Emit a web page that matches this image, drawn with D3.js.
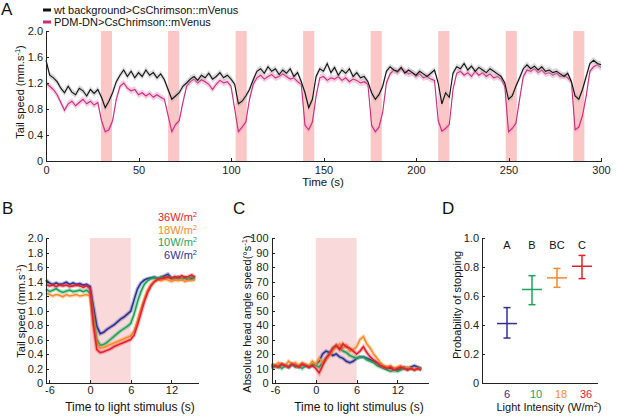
<!DOCTYPE html>
<html lang="en">
    <head>
        <meta charset="utf-8">
        <title>Larval stopping</title>
        <script type="text/javascript" src="https://cdn.jsdelivr.net/npm/d3@7"></script>
        <style>
            body { margin: 0; background: #fff; }
            svg { font-family: "Liberation Sans", Arial, sans-serif; }
            .axis path, .axis line { fill: none; stroke: #222; stroke-width: 1; shape-rendering: crispEdges; }
            .axis text { font-size: 11px; fill: #222; }
        </style>
    </head>
    <body>
        <script type="text/javascript">
            // Panel A: tail speed over a 300 s protocol, sampled every 2 s
            var timeA = d3.range(0, 301, 2);
            var wtSpeed = [1.55, 1.32, 1.28, 1.22, 1.12, 1.05, 1.15, 1.06, 1.02, 1.12, 1.08, 1.00, 1.10, 1.04, 1.10,
                0.98, 0.82, 0.92, 1.05, 1.22, 1.32, 1.40, 1.30, 1.38, 1.28, 1.36, 1.30, 1.40, 1.32, 1.36, 1.28, 1.34, 1.25,
                1.10, 0.95, 1.00, 1.05, 1.15, 1.20, 1.26, 1.30, 1.24, 1.32, 1.28, 1.35, 1.26, 1.30, 1.36, 1.28, 1.32, 1.26,
                1.18, 0.88, 0.92, 1.00, 1.10, 1.25, 1.38, 1.42, 1.35, 1.45, 1.38, 1.42, 1.33, 1.40, 1.35, 1.42, 1.30, 1.36,
                1.22, 1.05, 0.82, 0.95, 1.30, 1.42, 1.38, 1.50, 1.36, 1.44, 1.32, 1.40, 1.35, 1.42, 1.30, 1.36, 1.28, 1.30,
                1.22, 1.05, 0.95, 1.02, 1.15, 1.38, 1.45, 1.40, 1.38, 1.44, 1.35, 1.40, 1.36, 1.32, 1.38, 1.34, 1.30, 1.35,
                1.40, 1.20, 0.88, 1.05, 0.98, 1.35, 1.45, 1.42, 1.50, 1.40, 1.46, 1.38, 1.44, 1.40, 1.36, 1.42, 1.38, 1.34,
                1.30, 1.20, 0.95, 1.00, 1.15, 1.28, 1.42, 1.48, 1.42, 1.46, 1.40, 1.45, 1.38, 1.40, 1.36, 1.38, 1.34, 1.30,
                1.35, 1.22, 1.00, 0.95, 1.10, 1.30, 1.50, 1.55, 1.50, 1.48];
            var pdmSpeed = [1.20, 1.15, 1.10, 1.02, 0.90, 0.78, 0.88, 0.92, 0.85, 0.90, 0.95, 0.88, 0.92, 0.86, 0.90,
                0.62, 0.45, 0.48, 0.62, 0.95, 1.15, 1.20, 1.12, 1.08, 1.10, 1.02, 1.05, 1.00, 1.04, 0.98, 1.02, 0.98, 0.95,
                0.70, 0.45, 0.56, 0.62, 0.90, 1.15, 1.22, 1.26, 1.20, 1.25, 1.22, 1.18, 1.10, 1.18, 1.24, 1.20, 1.22, 1.15,
                0.80, 0.45, 0.52, 0.60, 0.95, 1.18, 1.28, 1.32, 1.26, 1.30, 1.33, 1.28, 1.30, 1.34, 1.30, 1.26, 1.28, 1.22,
                1.18, 0.55, 0.48, 0.60, 1.00, 1.28, 1.30, 1.24, 1.28, 1.26, 1.30, 1.24, 1.28, 1.22, 1.26, 1.24, 1.20, 1.22,
                1.18, 0.55, 0.45, 0.52, 0.75, 1.20, 1.34, 1.40, 1.36, 1.42, 1.38, 1.34, 1.36, 1.30, 1.34, 1.28, 1.30, 1.26,
                1.24, 0.62, 0.46, 0.50, 0.56, 1.10, 1.35, 1.38, 1.32, 1.36, 1.30, 1.38, 1.32, 1.36, 1.30, 1.34, 1.28, 1.30,
                1.26, 1.15, 0.45, 0.50, 0.58, 0.95, 1.30, 1.40, 1.38, 1.42, 1.36, 1.40, 1.34, 1.36, 1.32, 1.35, 1.30, 1.32,
                1.28, 1.22, 0.48, 0.52, 0.70, 1.00, 1.38, 1.45, 1.48, 1.44];
            var pulseStarts = [29.7, 66, 102.5, 139, 175.5, 212, 248.5, 285];
            var pulseLength = 6;
            var semA = 0.05;

            // Panels B and C: aligned to light onset, 0.5 s steps
            var timeBC = d3.range(-6.5, 16, 0.5);
            var intensities = ["36W/m", "18W/m", "10W/m", "6W/m"];
            var speed36 = [1.36, 1.34, 1.35, 1.33, 1.35, 1.34, 1.35, 1.33, 1.34, 1.35, 1.34, 1.32, 1.34, 1.30, 0.80, 0.46,
                0.42, 0.43, 0.45, 0.47, 0.50, 0.52, 0.54, 0.56, 0.58, 0.60, 0.66, 0.80, 0.96, 1.12, 1.25, 1.34, 1.40, 1.43,
                1.44, 1.45, 1.46, 1.44, 1.47, 1.45, 1.48, 1.46, 1.47, 1.49, 1.46];
            var speed18 = [1.24, 1.22, 1.20, 1.22, 1.21, 1.19, 1.22, 1.20, 1.21, 1.22, 1.20, 1.21, 1.22, 1.20, 0.85, 0.55,
                0.48, 0.49, 0.51, 0.53, 0.55, 0.57, 0.59, 0.61, 0.63, 0.65, 0.72, 0.86, 1.02, 1.16, 1.28, 1.36, 1.40, 1.42,
                1.41, 1.43, 1.42, 1.40, 1.42, 1.41, 1.43, 1.40, 1.42, 1.41, 1.43];
            var speed10 = [1.30, 1.26, 1.28, 1.30, 1.27, 1.25, 1.27, 1.28, 1.26, 1.27, 1.28, 1.26, 1.28, 1.24, 0.90, 0.60,
                0.52, 0.53, 0.56, 0.60, 0.64, 0.68, 0.72, 0.75, 0.78, 0.82, 0.95, 1.12, 1.26, 1.36, 1.41, 1.44, 1.45, 1.44,
                1.46, 1.45, 1.47, 1.45, 1.44, 1.46, 1.44, 1.45, 1.44, 1.46, 1.44];
            var speed6 = [1.42, 1.38, 1.36, 1.38, 1.36, 1.37, 1.39, 1.36, 1.38, 1.36, 1.37, 1.35, 1.36, 1.33, 1.05, 0.78,
                0.68, 0.70, 0.74, 0.77, 0.80, 0.84, 0.88, 0.91, 0.95, 0.99, 1.15, 1.30, 1.38, 1.42, 1.44, 1.45, 1.46, 1.44,
                1.46, 1.48, 1.50, 1.45, 1.44, 1.46, 1.43, 1.45, 1.42, 1.44, 1.43];
            var head36 = [11, 12, 11, 13, 12, 11, 13, 12, 11, 13, 12, 11, 12, 10, 7, 12, 17, 20, 24, 26, 23, 27, 25, 24,
                22, 20, 22, 25, 21, 18, 16, 14, 12, 11, 10, 11, 9, 10, 11, 10, 9, 10, 9, 10, 9];
            var head18 = [13, 12, 14, 13, 12, 15, 13, 14, 12, 14, 13, 12, 15, 13, 17, 14, 16, 19, 22, 25, 27, 24, 26, 22,
                23, 25, 30, 32, 27, 24, 20, 17, 14, 12, 11, 12, 10, 11, 12, 10, 11, 10, 9, 10, 9];
            var head10 = [10, 11, 12, 10, 12, 11, 13, 11, 12, 10, 12, 11, 13, 12, 11, 14, 17, 20, 24, 26, 24, 22, 21, 19,
                18, 17, 18, 18, 16, 15, 14, 12, 11, 10, 9, 8, 9, 8, 9, 10, 9, 10, 9, 10, 10];
            var head6 = [13, 12, 11, 13, 12, 11, 13, 12, 11, 13, 12, 11, 12, 13, 15, 20, 22, 21, 19, 20, 18, 17, 15, 14,
                15, 17, 18, 18, 17, 16, 15, 14, 12, 11, 11, 10, 10, 9, 10, 11, 10, 11, 12, 11, 10];

            // Panel D: probability of stopping with 95% interval
            var doseLabels = ["6", "10", "18", "36"];
            var stopProb = [0.41, 0.645, 0.725, 0.805];
            var stopLow = [0.31, 0.54, 0.66, 0.72];
            var stopHigh = [0.52, 0.74, 0.79, 0.88];
            var groupLetters = ["A", "B", "BC", "C"];

            var colors = ["#e3202c", "#f68b28", "#1ea35a", "#2e3192"];
            var doseColors = ["#2e3192", "#1ea35a", "#f68b28", "#e3202c"];

            var w = 617;
            var h = 416;
            var svg = d3.select("body").append("svg").attr("width", w).attr("height", h);

            function label(txt, x, y, size, anchor) {
                return svg.append("text").attr("x", x).attr("y", y).attr("font-size", size)
                          .attr("text-anchor", anchor || "start").attr("fill", "#111").text(txt);
            }
            function fmt(d) { return d === 0 ? "0" : d3.format(".1f")(d); }

            // ---------- A ----------
            var xA = d3.scaleLinear().domain([0, 300]).range([46, 601]);
            var yA = d3.scaleLinear().domain([0, 2]).range([161, 31]);

            svg.append("g").selectAll("rect").data(pulseStarts).enter().append("rect")
               .attr("x", function(d) { return xA(d); })
               .attr("width", function(d) { return xA(d + pulseLength) - xA(d); })
               .attr("y", yA(2)).attr("height", yA(0) - yA(2))
               .attr("fill", "#fbc6c6");

            var bandA = function(vals) {
                return d3.area().x(function(d, i) { return xA(timeA[i]); })
                         .y0(function(d) { return yA(d - semA); })
                         .y1(function(d) { return yA(d + semA); })(vals);
            };
            var lineA = d3.line().x(function(d, i) { return xA(timeA[i]); }).y(function(d) { return yA(d); });

            svg.append("path").attr("d", bandA(pdmSpeed)).attr("fill", "#ef9cc4").attr("opacity", 0.5);
            svg.append("path").attr("d", lineA(pdmSpeed)).attr("fill", "none").attr("stroke", "#cc2a7c").attr("stroke-width", 1.1);
            svg.append("path").attr("d", bandA(wtSpeed)).attr("fill", "#aaaaaa").attr("opacity", 0.45);
            svg.append("path").attr("d", lineA(wtSpeed)).attr("fill", "none").attr("stroke", "#111").attr("stroke-width", 1.1);

            svg.append("g").attr("class", "axis").attr("transform", "translate(0," + yA(0) + ")")
               .call(d3.axisBottom(xA).tickValues([0, 50, 100, 150, 200, 250, 300]).tickSizeInner(-3).tickSizeOuter(0).tickPadding(5));
            svg.append("g").attr("class", "axis").attr("transform", "translate(" + xA(0) + ",0)")
               .call(d3.axisLeft(yA).tickValues([0, 0.4, 0.8, 1.2, 1.6, 2.0]).tickFormat(fmt).tickSizeInner(-3).tickSizeOuter(0).tickPadding(3));

            label("A", 1, 15, 17);
            svg.append("line").attr("x1", 43).attr("x2", 51).attr("y1", 10).attr("y2", 10).attr("stroke", "#111").attr("stroke-width", 3);
            svg.append("line").attr("x1", 43).attr("x2", 51).attr("y1", 22).attr("y2", 22).attr("stroke", "#cc2a7c").attr("stroke-width", 3);
            label("wt background>CsChrimson::mVenus", 54, 14, 11);
            label("PDM-DN>CsChrimson::mVenus", 54, 26, 11);
            label("Time (s)", 323, 186, 11.5, "middle");

            function yLabel(x, y, main) {
                var t = svg.append("text").attr("transform", "translate(" + x + "," + y + ") rotate(-90)")
                           .attr("text-anchor", "middle").attr("font-size", 11).attr("fill", "#111");
                t.append("tspan").text(main);
                t.append("tspan").attr("dy", -4).attr("font-size", 7.5).text("-1");
                t.append("tspan").attr("dy", 4).text(")");
                return t;
            }
            yLabel(24, 92, "Tail speed (mm.s");

            // ---------- B ----------
            var xB = d3.scaleLinear().domain([-6.5, 16]).range([46, 198.5]);
            var yB = d3.scaleLinear().domain([0, 2]).range([383, 238]);
            svg.append("rect").attr("x", xB(0)).attr("width", xB(6) - xB(0))
               .attr("y", yB(2)).attr("height", yB(0) - yB(2)).attr("fill", "#f9d9da");

            var speedSeries = [speed36, speed18, speed10, speed6];
            var lineB = d3.line().x(function(d, i) { return xB(timeBC[i]); }).y(function(d) { return yB(d); });
            speedSeries.slice().reverse().forEach(function(s, k) {
                var c = colors[3 - k];
                svg.append("path").attr("d", lineB(s)).attr("fill", "none").attr("stroke", c).attr("stroke-opacity", 0.3).attr("stroke-width", 4);
                svg.append("path").attr("d", lineB(s)).attr("fill", "none").attr("stroke", c).attr("stroke-width", 1.6);
            });

            svg.append("g").attr("class", "axis").attr("transform", "translate(0," + yB(0) + ")")
               .call(d3.axisBottom(xB).tickValues([-6, 0, 6, 12]).tickFormat(String).tickSizeInner(-3).tickSizeOuter(0).tickPadding(3));
            svg.append("g").attr("class", "axis").attr("transform", "translate(" + xB(-6.5) + ",0)")
               .call(d3.axisLeft(yB).tickValues(d3.range(0, 2.01, 0.2)).tickFormat(fmt).tickSizeInner(-3).tickSizeOuter(0).tickPadding(3));

            label("B", 2, 214, 17);
            intensities.forEach(function(t, i) {
                var tx = svg.append("text").attr("x", 197).attr("y", 221 + i * 12.5).attr("text-anchor", "end")
                            .attr("font-size", 11).attr("fill", colors[i]);
                tx.append("tspan").text(t);
                tx.append("tspan").attr("dy", -4).attr("font-size", 7.5).text("2");
            });
            yLabel(25, 311, "Tail speed (mm.s");
            label("Time to light stimulus (s)", 130, 411, 12, "middle");

            // ---------- C ----------
            var xC = d3.scaleLinear().domain([-6.5, 16.5]).range([271.6, 428]);
            var yC = d3.scaleLinear().domain([0, 100]).range([383, 238]);
            svg.append("rect").attr("x", xC(0)).attr("width", xC(6) - xC(0))
               .attr("y", yC(100)).attr("height", yC(0) - yC(100)).attr("fill", "#f9d9da");

            var headSeries = [head36, head18, head10, head6];
            var lineC = d3.line().x(function(d, i) { return xC(timeBC[i]); }).y(function(d) { return yC(d); });
            headSeries.slice().reverse().forEach(function(s, k) {
                var c = colors[3 - k];
                svg.append("path").attr("d", lineC(s)).attr("fill", "none").attr("stroke", c).attr("stroke-opacity", 0.3).attr("stroke-width", 4);
                svg.append("path").attr("d", lineC(s)).attr("fill", "none").attr("stroke", c).attr("stroke-width", 1.6);
            });

            svg.append("g").attr("class", "axis").attr("transform", "translate(0," + yC(0) + ")")
               .call(d3.axisBottom(xC).tickValues([-6, 0, 6, 12]).tickFormat(String).tickSizeInner(-3).tickSizeOuter(0).tickPadding(3));
            svg.append("g").attr("class", "axis").attr("transform", "translate(" + xC(-6.5) + ",0)")
               .call(d3.axisLeft(yC).tickValues(d3.range(0, 101, 10)).tickSizeInner(-3).tickSizeOuter(0).tickPadding(3));

            label("C", 233, 214, 17);
            yLabel(251, 314, "Absolute head angle speed(\u00b0s");
            label("Time to light stimulus (s)", 359, 411, 12, "middle");

            // ---------- D ----------
            var xD = d3.scalePoint().domain(doseLabels).range([507, 582]);
            var yD = d3.scaleLinear().domain([0, 1]).range([383, 238]);

            var groups = svg.append("g").selectAll("g").data(doseLabels).enter().append("g")
                            .attr("stroke", function(d, i) { return doseColors[i]; })
                            .attr("stroke-width", 1.5);
            groups.append("line")
                  .attr("x1", function(d) { return xD(d); }).attr("x2", function(d) { return xD(d); })
                  .attr("y1", function(d, i) { return yD(stopLow[i]); }).attr("y2", function(d, i) { return yD(stopHigh[i]); });
            groups.append("line")
                  .attr("x1", function(d) { return xD(d) - 10; }).attr("x2", function(d) { return xD(d) + 10; })
                  .attr("y1", function(d, i) { return yD(stopProb[i]); }).attr("y2", function(d, i) { return yD(stopProb[i]); });
            groups.append("line")
                  .attr("x1", function(d) { return xD(d) - 3.5; }).attr("x2", function(d) { return xD(d) + 3.5; })
                  .attr("y1", function(d, i) { return yD(stopLow[i]); }).attr("y2", function(d, i) { return yD(stopLow[i]); });
            groups.append("line")
                  .attr("x1", function(d) { return xD(d) - 3.5; }).attr("x2", function(d) { return xD(d) + 3.5; })
                  .attr("y1", function(d, i) { return yD(stopHigh[i]); }).attr("y2", function(d, i) { return yD(stopHigh[i]); });

            svg.append("g").selectAll("text").data(groupLetters).enter().append("text")
               .attr("x", function(d, i) { return xD(doseLabels[i]); }).attr("y", 249)
               .attr("text-anchor", "middle").attr("font-size", 11).attr("fill", "#111")
               .text(function(d) { return d; });

            svg.append("g").selectAll("text").data(doseLabels).enter().append("text")
               .attr("x", function(d, i) { return xD(d) + (i === 0 ? 0 : 4); }).attr("y", 398)
               .attr("text-anchor", "middle").attr("font-size", 11)
               .attr("fill", function(d, i) { return doseColors[i]; })
               .text(function(d) { return d; });

            svg.append("line").attr("x1", 482).attr("x2", 598).attr("y1", yD(0)).attr("y2", yD(0))
               .attr("stroke", "#222").attr("shape-rendering", "crispEdges");
            svg.append("g").attr("class", "axis").attr("transform", "translate(482,0)")
               .call(d3.axisLeft(yD).tickValues(d3.range(0, 1.01, 0.2)).tickFormat(fmt).tickSizeInner(-3).tickSizeOuter(0).tickPadding(3));

            label("D", 442, 214, 17);
            svg.append("text").attr("transform", "translate(461,305) rotate(-90)")
               .attr("text-anchor", "middle").attr("font-size", 11).attr("fill", "#111")
               .text("Probability of stopping");
            var xl = svg.append("text").attr("x", 549).attr("y", 411).attr("text-anchor", "middle")
                        .attr("font-size", 11).attr("fill", "#111");
            xl.append("tspan").text("Light Intensity (W/m");
            xl.append("tspan").attr("dy", -4).attr("font-size", 7.5).text("2");
            xl.append("tspan").attr("dy", 4).text(")");
        </script>
    </body>
</html>
